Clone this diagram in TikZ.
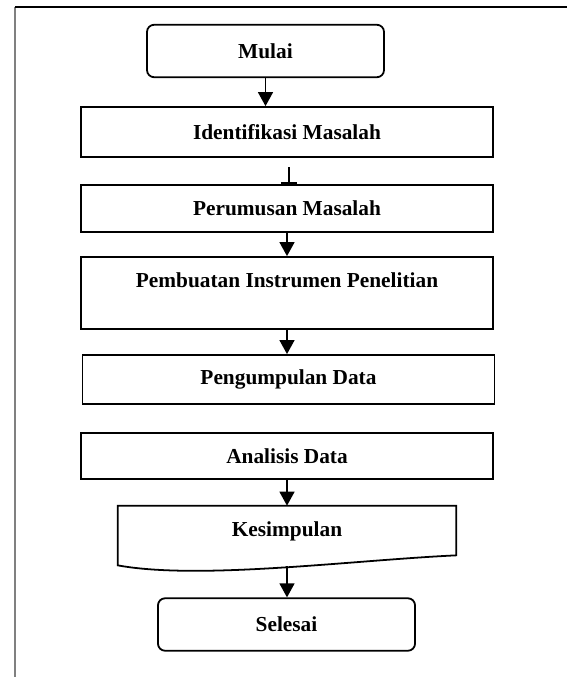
\documentclass[tikz,border=0pt]{standalone}
\usepackage{fontspec}
\setmainfont{Liberation Serif}
\usetikzlibrary{arrows.meta,calc}

\begin{document}
\begin{tikzpicture}[x=0.5625pt,y=-0.5625pt,
  box/.style={draw,line width=1pt,minimum width=231.75pt,font=\fontsize{12}{14}\selectfont\bfseries},
  term/.style={draw,line width=1pt,rounded corners=4pt,minimum height=29.5pt,font=\fontsize{12}{14}\selectfont\bfseries},
  arr/.style={line width=1pt,-{Triangle[width=8.4pt,length=7.9pt]}}]
  \useasboundingbox (0,0) rectangle (567,677);
  \draw[gray, line width=1pt] (15,677) -- (15,7);
  \draw[line width=0.8pt] (15,7) -- (567,7);
  % langkah
  \node[term,minimum width=133.3pt] (mulai) at (265.5,51) {Mulai};
  \node[box,minimum height=28.1pt] (ident) at (287,132) {Identifikasi Masalah};
  \node[box,minimum height=26.4pt] (perum) at (287,208.5) {Perumusan Masalah};
  \node[box,minimum height=40.5pt,align=center] (pemb) at (287,293) {Pembuatan Instrumen Penelitian\\ ~};
  \node[box,minimum height=27.6pt] (kumpul) at (288.5,379.5) {Pengumpulan Data};
  \node[box,minimum height=25.9pt] (anal) at (287,456) {Analisis Data};
  \node[minimum width=190.1pt,minimum height=28.1pt,font=\fontsize{12}{14}\selectfont\bfseries] (kesim) at (287,531) {Kesimpulan};
  \draw[line width=1pt,line join=miter] ($(kesim.south west)+(0,9)$) -- (kesim.north west) -- (kesim.north east) -- ($(kesim.south east)+(0,-1)$)
    .. controls +(-106,5) and +(82,15) .. ($(kesim.south west)+(0,9)$) -- cycle;
  \node[term,minimum width=144.6pt] (selesai) at (286.5,624.5) {Selesai};
  % panah
  \coordinate (tick) at (289,167);
  \coordinate (kesimbot) at ($(kesim.south)+(0,10)$);
  \draw[arr] (mulai) -- (mulai.south |- ident.north);
  \draw[line width=1pt,-{Bar[width=9pt,line width=1pt]}] (tick) -- (tick |- perum.north);
  \draw[arr] (perum) -- (pemb);
  \draw[arr] (pemb.south) -- (pemb.south |- kumpul.north);
  \draw[arr] (anal) -- (kesim);
  \draw[arr] (kesimbot) -- (kesimbot |- selesai.north);
\end{tikzpicture}
\end{document}
